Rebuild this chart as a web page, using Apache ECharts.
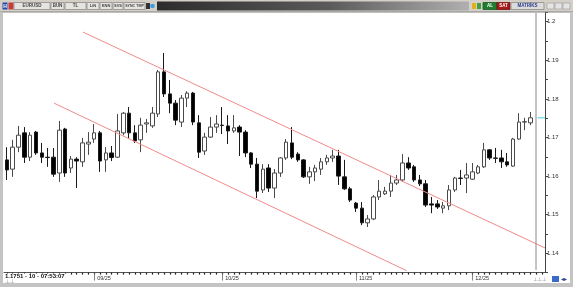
<!DOCTYPE html>
<html><head><meta charset="utf-8">
<script src="https://cdn.jsdelivr.net/npm/echarts@6/dist/echarts.min.js"></script>
<style>html,body{margin:0;padding:0;background:#fff;overflow:hidden}#c{width:573px;height:287px}</style>
</head><body><div id="c"></div>
<script>
// Trading days (2025), plus two empty future slots at the right edge
const dates = [
 "08-11","08-12","08-13","08-14","08-15","08-18","08-19","08-20","08-21","08-22","08-25","08-26","08-27","08-28","08-29",
 "09-01","09-02","09-03","09-04","09-05","09-08","09-09","09-10","09-11","09-12","09-15","09-16","09-17","09-18","09-19",
 "09-22","09-23","09-24","09-25","09-26","09-29","09-30",
 "10-01","10-02","10-03","10-06","10-07","10-08","10-09","10-10","10-13","10-14","10-15","10-16","10-17","10-20","10-21",
 "10-22","10-23","10-24","10-27","10-28","10-29","10-30","10-31",
 "11-03","11-04","11-05","11-06","11-07","11-10","11-11","11-12","11-13","11-14","11-17","11-18","11-19","11-20","11-21",
 "11-24","11-25","11-26","11-27","11-28",
 "12-01","12-02","12-03","12-04","12-05","12-08","12-09","12-10","12-11","12-12","12-15",
 "12-16","12-17"
];
const opens = [
 1.1642,1.1618,1.1675,1.1712,1.1649,1.1714,1.1660,1.1649,1.1649,1.1608,
 1.1722,1.1621,1.1644,1.1637,1.1683,1.1696,1.1712,1.1642,1.1660,1.1649,
 1.1712,1.1763,1.1712,1.1694,1.1735,1.1730,1.1761,1.1870,1.1813,1.1789,
 1.1740,1.1802,1.1815,1.1738,1.1665,1.1701,1.1727,1.1732,1.1730,1.1717,
 1.1727,1.1714,1.1660,1.1631,1.1564,1.1621,1.1569,1.1608,1.1647,1.1686,
 1.1657,1.1642,1.1598,1.1611,1.1618,1.1637,1.1647,1.1652,1.1598,1.1567,
 1.1530,1.1517,1.1479,1.1489,1.1546,1.1554,1.1561,1.1582,1.1590,1.1634,
 1.1624,1.1590,1.1580,1.1528,1.1528,1.1517,1.1523,1.1564,1.1595,1.1595,
 1.1592,1.1608,1.1624,1.1668,1.1647,1.1647,1.1637,1.1626,1.1696,1.1740,
 1.1738
];
const closes = [
 1.1616,1.1675,1.1706,1.1649,1.1706,1.1660,1.1649,1.1648,1.1605,1.1719,
 1.1608,1.1644,1.1639,1.1686,1.1688,1.1712,1.1639,1.1660,1.1648,1.1717,
 1.1763,1.1712,1.1691,1.1732,1.1738,1.1763,1.1870,1.1813,1.1789,1.1745,
 1.1802,1.1815,1.1740,1.1662,1.1701,1.1727,1.1735,1.1731,1.1717,1.1725,
 1.1714,1.1660,1.1631,1.1561,1.1618,1.1569,1.1608,1.1647,1.1688,1.1649,
 1.1642,1.1598,1.1611,1.1621,1.1637,1.1647,1.1652,1.1600,1.1567,1.1538,
 1.1517,1.1479,1.1489,1.1546,1.1561,1.1561,1.1582,1.1590,1.1634,1.1621,
 1.1590,1.1580,1.1525,1.1525,1.1520,1.1523,1.1564,1.1595,1.1594,1.1603,
 1.1611,1.1624,1.1668,1.1647,1.1646,1.1637,1.1629,1.1696,1.1740,1.1741,
 1.1751
];
const lows = [
 1.1590,1.1598,1.1662,1.1634,1.1639,1.1655,1.1634,1.1624,1.1598,1.1585,
 1.1598,1.1608,1.1569,1.1624,1.1655,1.1686,1.1611,1.1611,1.1639,1.1647,
 1.1706,1.1696,1.1686,1.1662,1.1712,1.1725,1.1753,1.1805,1.1763,1.1732,
 1.1727,1.1779,1.1732,1.1647,1.1655,1.1699,1.1712,1.1709,1.1683,1.1712,
 1.1652,1.1649,1.1621,1.1543,1.1556,1.1559,1.1543,1.1598,1.1642,1.1644,
 1.1637,1.1595,1.1580,1.1587,1.1603,1.1629,1.1637,1.1577,1.1564,1.1533,
 1.1507,1.1473,1.1468,1.1486,1.1538,1.1551,1.1546,1.1577,1.1585,1.1616,
 1.1585,1.1574,1.1520,1.1504,1.1515,1.1504,1.1512,1.1559,1.1577,1.1556,
 1.1590,1.1605,1.1621,1.1642,1.1634,1.1621,1.1624,1.1624,1.1694,1.1719,
 1.1732
];
const highs = [
 1.1675,1.1694,1.1730,1.1727,1.1714,1.1717,1.1686,1.1673,1.1673,1.1743,
 1.1725,1.1652,1.1649,1.1699,1.1714,1.1735,1.1717,1.1675,1.1678,1.1761,
 1.1766,1.1779,1.1732,1.1751,1.1748,1.1779,1.1875,1.1919,1.1849,1.1797,
 1.1810,1.1820,1.1818,1.1758,1.1712,1.1753,1.1758,1.1779,1.1758,1.1758,
 1.1732,1.1719,1.1662,1.1647,1.1631,1.1631,1.1618,1.1649,1.1696,1.1727,
 1.1662,1.1644,1.1624,1.1629,1.1647,1.1655,1.1668,1.1668,1.1642,1.1572,
 1.1533,1.1533,1.1499,1.1551,1.1590,1.1572,1.1603,1.1603,1.1657,1.1649,
 1.1629,1.1603,1.1590,1.1546,1.1538,1.1533,1.1577,1.1598,1.1616,1.1634,
 1.1634,1.1629,1.1686,1.1670,1.1673,1.1668,1.1660,1.1699,1.1763,1.1751,
 1.1766
];
// month tick labels: [category, label]
const monthTicks = [["09-01","09/25"],["10-01","10/25"],["11-03","11/25"],["12-01","12/25"]];
// trend channel lines: [bar position, price]
const trendUpper = [[13.08, 1.1973], [92.5, 1.1414]];
const trendLower = [[8.10, 1.1789], [68.7, 1.1355]];
const lastPrice = 1.1751;
const lastPriceMark = [[91.2, lastPrice], [92.5, lastPrice]];
const infoText = "1.1751 - 10 - 07:53:07";

const candleData = opens.map((o, i) => [o, closes[i], lows[i], highs[i]]);
const monthMap = Object.fromEntries(monthTicks);
const isMonth = (idx, val) => monthMap[dates[idx]] !== undefined;

const FONT = "Liberation Sans";
const chart = echarts.init(document.getElementById('c'), null, {renderer: 'canvas'});

function btn(x, w, label, fill, color, stroke, size) {
  return [
    {type: 'rect', shape: {x: x, y: 2.5, width: w, height: 7}, style: {fill: fill, stroke: stroke || '#8c8c8c', lineWidth: 0.8}, z: 10},
    {type: 'text', x: x + w / 2, y: 6.2, style: {text: label, fill: color, font: 'bold ' + (size || 4.5) + 'px ' + FONT, align: 'center', verticalAlign: 'middle'}, z: 11}
  ];
}

const graphics = [].concat(
  [{type: 'rect', shape: {x: 0, y: 0, width: 573, height: 12}, style: {fill: '#d4d0c8'}, z: 9},
   {type: 'line', shape: {x1: 0, y1: 12, x2: 573, y2: 12}, style: {stroke: '#808080', lineWidth: 1}, z: 9},
   {type: 'rect', shape: {x: 0, y: 12, width: 3, height: 275}, style: {fill: '#c4c4c4'}, z: 9},
   {type: 'rect', shape: {x: 570, y: 12, width: 3, height: 275}, style: {fill: '#c4c4c4'}, z: 9},
   {type: 'rect', shape: {x: 0, y: 283, width: 573, height: 4}, style: {fill: '#c4c4c4'}, z: 9},
   {type: 'rect', shape: {x: 2.5, y: 2.5, width: 5, height: 7}, style: {fill: '#2a48a8'}, z: 10},
   {type: 'text', x: 5, y: 6.2, style: {text: 'H', fill: '#fff', font: 'bold 5px ' + FONT, align: 'center', verticalAlign: 'middle'}, z: 11},
   {type: 'rect', shape: {x: 8.5, y: 2.5, width: 5, height: 7}, style: {fill: '#c83a3a'}, z: 10},
   {type: 'rect', shape: {x: 157, y: 1.5, width: 312, height: 9}, style: {fill: new echarts.graphic.LinearGradient(0, 0, 1, 0, [{offset: 0, color: '#2c2c2c'}, {offset: 0.55, color: '#5a5a5a'}, {offset: 1, color: '#b0b0b0'}])}, z: 10},
   {type: 'circle', shape: {cx: 152.5, cy: 6, r: 2.3}, style: {fill: '#3a9ee0'}, z: 10},
   {type: 'rect', shape: {x: 146, y: 3, width: 4, height: 6}, style: {fill: '#333'}, z: 10},
   {type: 'rect', shape: {x: 472, y: 3, width: 4, height: 6}, style: {fill: '#e0b020'}, z: 10},
   {type: 'rect', shape: {x: 477, y: 3, width: 4, height: 6}, style: {fill: '#40a040'}, z: 10},
   {type: 'rect', shape: {x: 547, y: 3, width: 7, height: 6}, style: {fill: '#e4e4e4', stroke: '#999', lineWidth: 0.6}, z: 10},
   {type: 'rect', shape: {x: 555, y: 3, width: 7, height: 6}, style: {fill: '#e4e4e4', stroke: '#999', lineWidth: 0.6}, z: 10},
   {type: 'rect', shape: {x: 563, y: 3, width: 7, height: 6}, style: {fill: '#e4e4e4', stroke: '#999', lineWidth: 0.6}, z: 10},
   {type: 'line', shape: {x1: 536, y1: 13, x2: 536, y2: 270}, style: {stroke: '#888', lineWidth: 1}, z: 5},
   {type: 'text', x: 4, y: 276.5, style: {text: infoText, fill: '#111', font: 'bold 6px ' + FONT, verticalAlign: 'middle', backgroundColor: '#fff', padding: [0, 2, 0, 1]}, z: 12},
   {type: 'text', x: 5, y: 282, style: {text: '\u22a5.\u22a5', fill: '#777', font: '5px ' + FONT, verticalAlign: 'middle'}, z: 12},
   {type: 'text', x: 533, y: 280, style: {text: '\u22a5\u22a5.\u22a5', fill: '#777', font: '5px ' + FONT, verticalAlign: 'middle'}, z: 12},
   {type: 'rect', shape: {x: 552, y: 276, width: 7, height: 6}, style: {fill: '#3a6ac8'}, z: 12},
   {type: 'text', x: 561, y: 279.5, style: {text: '\u25c2\u25b8', fill: '#2a4a9a', font: '6px ' + FONT, verticalAlign: 'middle'}, z: 12}
  ],
  btn(14, 36, 'EURUSD', '#e6e4de', '#444'),
  btn(51, 13, 'BUN', '#e6e4de', '#444'),
  btn(65, 21, 'TL', '#e6e4de', '#444'),
  btn(87, 12, 'LİN', '#e6e4de', '#444', null, 4),
  btn(100, 12, 'KNN', '#e6e4de', '#444', null, 4),
  btn(113, 10, 'SVS', '#e6e4de', '#444', null, 4),
  btn(124, 21, 'SYNC TMP', '#e6e4de', '#444', null, 3.6),
  btn(483, 14, 'AL', '#1f7d30', '#fff', '#1a5a22'),
  btn(497, 13, 'SAT', '#a81a1a', '#fff', '#701010'),
  btn(511, 33, 'MATRİKS', '#dcdcdc', '#2a3a8a')
);

const option = {
  animation: false,
  backgroundColor: '#ffffff',
  grid: {left: 4, right: 28, top: 12.05, bottom: 14.4, containLabel: false, show: false},
  xAxis: [
    {type: 'category', data: dates, boundaryGap: true, position: 'bottom',
     axisLine: {show: true, onZero: false, lineStyle: {color: '#555', width: 1}},
     axisTick: {show: true, alignWithLabel: true, interval: 0, length: 2, lineStyle: {color: '#222', width: 1.2}},
     axisLabel: {show: false}, splitLine: {show: false}},
    {type: 'category', data: dates, boundaryGap: true, position: 'bottom',
     axisLine: {show: false, onZero: false},
     axisTick: {show: true, alignWithLabel: true, interval: isMonth, length: 8, lineStyle: {color: '#666', width: 0.8}},
     axisLabel: {show: true, interval: isMonth, formatter: v => monthMap[v] || '', align: 'left', padding: [0, 0, 0, 3],
                 margin: 3, fontSize: 5.5, fontFamily: FONT, color: '#333'},
     splitLine: {show: false}},
    {type: 'value', min: -0.5, max: 92.5, show: false, position: 'top', axisLine: {onZero: false}}
  ],
  yAxis: {
    type: 'value', position: 'right', min: 1.135, max: 1.2025, interval: 0.005, scale: true,
    axisLine: {show: true, onZero: false, lineStyle: {color: '#444', width: 1}},
    axisTick: {show: true, inside: false, length: 3, lineStyle: {color: '#444'}},
    axisLabel: {show: true, margin: 2, fontSize: 6, fontFamily: FONT, color: '#333',
      formatter: v => { const k = Math.round(v * 1000); return (Math.abs(v * 1000 - k) < 1e-6 && k % 10 === 0) ? String(k / 1000) : ''; }},
    splitLine: {show: false}
  },
  series: [
    {type: 'candlestick', xAxisIndex: 0, data: candleData, barWidth: 4,
     itemStyle: {color: '#ffffff', color0: '#000000', borderColor: '#4a4a4a', borderColor0: '#1a1a1a', borderWidth: 1}},
    {type: 'line', xAxisIndex: 2, data: trendUpper, symbol: 'none', silent: true,
     lineStyle: {color: '#f08a8a', width: 1}},
    {type: 'line', xAxisIndex: 2, data: trendLower, symbol: 'none', silent: true,
     lineStyle: {color: '#f08a8a', width: 1}},
    {type: 'line', xAxisIndex: 2, data: lastPriceMark, symbol: 'none', silent: true,
     lineStyle: {color: '#40d0e0', width: 1}}
  ],
  graphic: graphics
};
chart.setOption(option);
</script>
</body></html>
